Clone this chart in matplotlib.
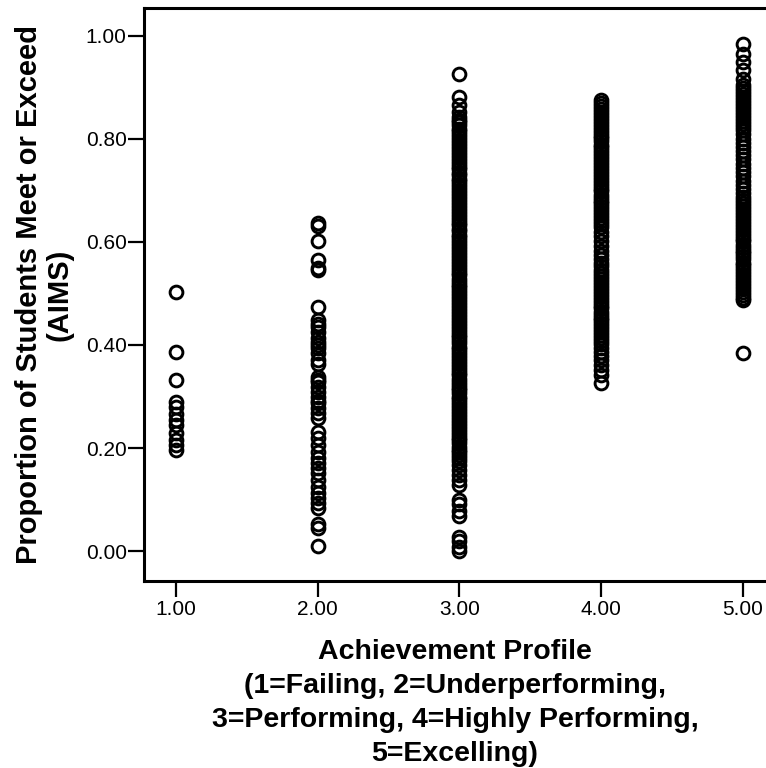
import matplotlib
matplotlib.use('Agg')
import matplotlib.pyplot as plt

plt.rcParams['font.family'] = ['Liberation Sans', 'DejaVu Sans']

# achievement profile categories on the x axis
profiles = [1, 2, 3, 4, 5]
tick_labels_x = ['1.00', '2.00', '3.00', '4.00', '5.00']
yticks = [0.0, 0.2, 0.4, 0.6, 0.8, 1.0]

g1 = [0.503, 0.386, 0.332, 0.290, 0.280, 0.266, 0.255, 0.245, 0.229, 0.216, 0.206, 0.196]

g2 = [0.637, 0.630, 0.602, 0.565, 0.549, 0.545, 0.474, 0.448, 0.440, 0.435, 0.426,
      0.413, 0.405, 0.400, 0.394, 0.384, 0.371, 0.364, 0.338, 0.333, 0.329, 0.319,
      0.309, 0.300, 0.292, 0.287, 0.277, 0.268, 0.258, 0.232, 0.219, 0.206, 0.193,
      0.180, 0.171, 0.161, 0.151, 0.138, 0.125, 0.113, 0.103, 0.093, 0.084, 0.053,
      0.045, 0.010]

g3 = [0.926, 0.881, 0.865, 0.852,
      0.843, 0.837, 0.832, 0.826, 0.820, 0.815, 0.809, 0.803, 0.797, 0.792, 0.786,
      0.781, 0.774, 0.769, 0.763, 0.757, 0.752, 0.746, 0.741, 0.734, 0.729, 0.723,
      0.718, 0.712, 0.706, 0.700, 0.695, 0.689, 0.683, 0.678, 0.672, 0.666, 0.660,
      0.655, 0.649, 0.643, 0.637, 0.632, 0.626, 0.621, 0.614, 0.609, 0.603, 0.597,
      0.592, 0.586, 0.581, 0.574, 0.569, 0.563, 0.557, 0.552, 0.546, 0.540, 0.535,
      0.529, 0.523, 0.517, 0.512, 0.506, 0.500, 0.495, 0.489, 0.483, 0.477, 0.472,
      0.466, 0.461, 0.454, 0.449, 0.443, 0.437, 0.432, 0.426, 0.420, 0.415, 0.409,
      0.403, 0.397, 0.392, 0.386, 0.381, 0.374, 0.369, 0.363, 0.357, 0.352, 0.346,
      0.341, 0.334, 0.329, 0.323, 0.317, 0.312, 0.306, 0.300, 0.295, 0.289, 0.283,
      0.277, 0.272, 0.266, 0.261, 0.254, 0.249, 0.243, 0.237, 0.232, 0.226, 0.220,
      0.215, 0.209, 0.203, 0.197, 0.192, 0.186, 0.181, 0.175, 0.168,
      0.158, 0.148, 0.138, 0.129, 0.100, 0.092, 0.077, 0.068, 0.028, 0.019, 0.008, 0.000]

g4 = [0.875, 0.870, 0.864, 0.858, 0.852, 0.847, 0.841, 0.835, 0.829, 0.824, 0.818,
      0.812, 0.806, 0.801, 0.795, 0.789, 0.784, 0.778, 0.772, 0.766, 0.761, 0.755,
      0.749, 0.743, 0.738, 0.732, 0.726, 0.721, 0.715, 0.709, 0.703, 0.698, 0.692,
      0.686, 0.680, 0.675, 0.669, 0.663, 0.658, 0.652, 0.646, 0.640, 0.635, 0.629,
      0.620, 0.611, 0.601, 0.592, 0.583, 0.575, 0.567, 0.560, 0.553,
      0.545, 0.539, 0.534, 0.528, 0.522, 0.516, 0.511, 0.505, 0.499, 0.494, 0.488,
      0.482, 0.476, 0.471, 0.465, 0.459, 0.453, 0.448, 0.442, 0.436, 0.431, 0.425,
      0.419, 0.413, 0.408, 0.402, 0.395, 0.387, 0.379, 0.371, 0.362, 0.352, 0.341,
      0.326]

g5 = [0.985, 0.965, 0.949, 0.933, 0.917, 0.904,
      0.898, 0.892, 0.887, 0.881, 0.875, 0.869, 0.864, 0.858, 0.852, 0.846, 0.841,
      0.835, 0.829, 0.823, 0.817, 0.810, 0.800, 0.792, 0.784, 0.776, 0.768, 0.760,
      0.751, 0.743, 0.735, 0.727, 0.719, 0.711, 0.703, 0.695, 0.687, 0.681, 0.675,
      0.670, 0.664, 0.658, 0.652, 0.647, 0.641, 0.635, 0.629, 0.624, 0.618, 0.612,
      0.606, 0.601, 0.595, 0.589, 0.583, 0.578, 0.572, 0.566, 0.560, 0.555, 0.549,
      0.543, 0.537, 0.532, 0.526, 0.520, 0.514, 0.509, 0.503, 0.497, 0.492, 0.487,
      0.384]

groups = [g1, g2, g3, g4, g5]

fig = plt.figure(figsize=(7.66, 7.68), dpi=100)
ax = fig.add_axes([144 / 766, 1 - 581 / 768, 622 / 766, 573 / 768])

for p, vals in zip(profiles, groups):
    ax.plot([p] * len(vals), vals, linestyle='none', marker='o', ms=9.2,
            mfc='none', mec='black', mew=2.1)

ax.set_xlim(0.776, 5.162)
ax.set_ylim(-0.058, 1.054)
ax.set_xticks(profiles)
ax.set_xticklabels(tick_labels_x)
ax.set_yticks(yticks)
ax.set_yticklabels(['%.2f' % v for v in yticks])

for side in ['left', 'bottom', 'top']:
    ax.spines[side].set_linewidth(2.2)
ax.spines['right'].set_visible(False)
ax.tick_params(direction='out', length=11.5, width=1.6, labelsize=15)
ax.tick_params(axis='x', pad=2)
ax.tick_params(axis='y', pad=1)

ax.set_xlabel('Achievement Profile\n(1=Failing, 2=Underperforming,\n'
              '3=Performing, 4=Highly Performing,\n5=Excelling)',
              fontsize=20.5, fontweight='bold', labelpad=14.5, linespacing=1.4)
ax.set_ylabel('Proportion of Students Meet or Exceed\n(AIMS)',
              fontsize=21, fontweight='bold', labelpad=9, linespacing=1.1)

fig.savefig('out.png', dpi=100)
